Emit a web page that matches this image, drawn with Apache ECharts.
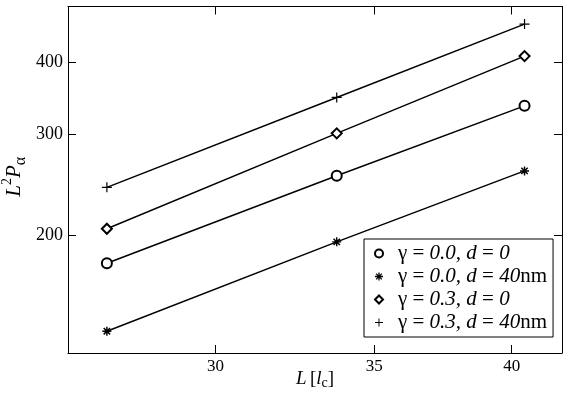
<!DOCTYPE html>
<meta charset="utf-8">
<html>
<head>
  <script src="https://cdn.jsdelivr.net/npm/echarts@6/dist/echarts.min.js"></script>
</head>
<body style="margin:0;background:#fff">
  <div id="main" style="width:567px;height:405px;"></div>
  <script type="text/javascript">

  // L values (system size in units of l_c)
  var L = [27, 33.75, 40.5];
  // L^2 P_alpha for each case
  var g00d0 = [179, 254, 336];
  var g00d40 = [136.4, 195, 259];
  var g03d0 = [205.5, 301, 410];
  var g03d40 = [242.5, 347.5, 466];
  var xTicks = [30, 35, 40];
  var yTicks = [200, 300, 400];
  var names = ['g00d0', 'g00d40', 'g03d0', 'g03d40'];
  var labels = {
    g00d0: '{g|γ}{r| = }{i|0.0, d}{r| = }{i|0}',
    g00d40: '{g|γ}{r| = }{i|0.0, d}{r| = }{i|40}{r|nm}',
    g03d0: '{g|γ}{r| = }{i|0.3, d}{r| = }{i|0}',
    g03d40: '{g|γ}{r| = }{i|0.3, d}{r| = }{i|40}{r|nm}'
  };

  var lg = Math.log10;
  var font = 'Liberation Serif';

  var plusPath = 'path://M0,4.4H10V5.6H0Z M4.4,0H5.6V10H4.4Z';
  var starPath = 'path://M0,4.2H10V5.8H0Z M4.2,0H5.8V10H4.2Z ' +
    'M0.89,2.02L2.02,0.89L9.11,7.98L7.98,9.11Z M0.89,7.98L7.98,0.89L9.11,2.02L2.02,9.11Z';
  var symbols = ['emptyCircle', starPath, 'emptyDiamond', plusPath];
  var sizes = [10, 9, 10, 10];
  var borders = [1.1, 0, 1.1, 0];
  var values = [g00d0, g00d40, g03d0, g03d40];

  function fmt(v) { return String(Math.round(Math.pow(10, v))); }

  var series = names.map(function (n, k) {
    return {
      name: n,
      type: 'line',
      data: L.map(function (x, i) { return [lg(x), lg(values[k][i])]; }),
      symbol: symbols[k],
      symbolSize: sizes[k],
      showSymbol: true,
      lineStyle: { color: '#000', width: 1.5 },
      itemStyle: { color: '#000', borderColor: '#000', borderWidth: borders[k] },
      emphasis: { disabled: true }
    };
  });

  var rich = {
    g: { fontFamily: font, fontSize: 21, color: '#000', padding: [0, 0, 0, 10] },
    r: { fontFamily: font, fontSize: 21, color: '#000' },
    i: { fontFamily: font, fontSize: 21, fontStyle: 'italic', color: '#000' }
  };

  var tickCommon = { inside: true, length: 8, lineStyle: { color: '#000' } };
  var lineCommon = { show: true, lineStyle: { color: '#000', width: 1 } };

  var myChart = echarts.init(document.getElementById('main'));

  var option = {
    animation: false,
    grid: { left: 68, right: 5, top: 6.5, bottom: 52, containLabel: false, outerBoundsMode: 'none' },
    legend: {
      data: names.map(function (n, k) { return { name: n, icon: symbols[k] }; }),
      orient: 'vertical',
      left: 364,
      top: 239,
      itemWidth: 8,
      itemHeight: 8,
      itemGap: 2,
      padding: [4, 6, 4, 10],
      backgroundColor: '#fff',
      borderColor: '#000',
      borderWidth: 1,
      selectedMode: false,
      formatter: function (n) { return labels[n]; },
      textStyle: { fontFamily: font, fontSize: 21, lineHeight: 21, color: '#000', rich: rich }
    },
    xAxis: [{
      type: 'value',
      min: lg(26),
      max: lg(42),
      axisLine: lineCommon,
      splitLine: { show: false },
      axisTick: Object.assign({ customValues: xTicks.map(lg) }, tickCommon),
      axisLabel: {
        customValues: xTicks.map(lg),
        formatter: fmt,
        fontFamily: font, fontSize: 17, color: '#000', margin: 5
      },
      name: '{i|L} {r|[}{i|l}{sub|c}{r|]}',
      nameLocation: 'middle',
      nameGap: 15,
      nameMoveOverlap: false,
      nameTextStyle: {
        rich: {
          i: { fontFamily: font, fontSize: 19, fontStyle: 'italic', color: '#000', lineHeight: 22 },
          r: { fontFamily: font, fontSize: 19, color: '#000', lineHeight: 22 },
          sub: { fontFamily: font, fontSize: 14, color: '#000', verticalAlign: 'bottom', lineHeight: 22, padding: [8, 0, 0, 0] }
        }
      }
    }, {
      type: 'value',
      position: 'top',
      min: lg(26),
      max: lg(42),
      axisLine: lineCommon,
      splitLine: { show: false },
      axisTick: Object.assign({ customValues: xTicks.map(lg) }, tickCommon),
      axisLabel: { show: false }
    }],
    yAxis: [{
      type: 'value',
      min: lg(125),
      max: lg(500),
      axisLine: lineCommon,
      splitLine: { show: false },
      axisTick: Object.assign({ customValues: yTicks.map(lg) }, tickCommon),
      axisLabel: {
        customValues: yTicks.map(lg),
        formatter: fmt,
        fontFamily: font, fontSize: 18, color: '#000', margin: 5
      },
      name: '{i|L}{sup|2}{i|P}{sub|α}',
      nameLocation: 'middle',
      nameGap: 39,
      nameMoveOverlap: false,
      nameTextStyle: {
        padding: [0, 0, 0, 6],
        rich: {
          i: { fontFamily: font, fontSize: 21, fontStyle: 'italic', color: '#000', lineHeight: 29 },
          sup: { fontFamily: font, fontSize: 14, color: '#000', verticalAlign: 'top', lineHeight: 29 },
          sub: { fontFamily: font, fontSize: 16, color: '#000', verticalAlign: 'bottom', lineHeight: 29 }
        }
      }
    }, {
      type: 'value',
      position: 'right',
      min: lg(125),
      max: lg(500),
      axisLine: lineCommon,
      splitLine: { show: false },
      axisTick: Object.assign({ customValues: yTicks.map(lg) }, tickCommon),
      axisLabel: { show: false }
    }],
    series: series
  };

  myChart.setOption(option);

  </script>
</body>
</html>
